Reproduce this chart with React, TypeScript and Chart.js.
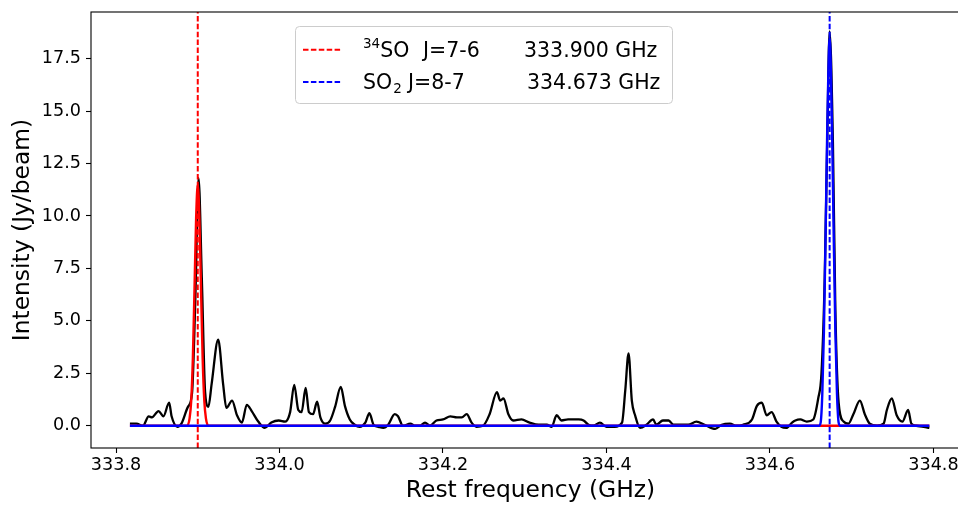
import React, { useEffect, useRef } from 'react';
import { Chart, registerables } from 'chart.js';

Chart.register(...registerables);

// ---- data ----
const freqGHz = [
  333.817, 333.825, 333.833, 333.840, 333.844, 333.852, 333.858, 333.865, 333.868, 333.875,
  333.880, 333.888, 333.893, 333.897, 333.901, 333.905, 333.909, 333.913, 333.917, 333.925,
  333.931, 333.935, 333.942, 333.948, 333.954, 333.960, 333.966, 333.974, 333.982, 333.990,
  333.999, 334.007, 334.013, 334.018, 334.023, 334.027, 334.032, 334.036, 334.041, 334.046,
  334.050, 334.056, 334.062, 334.068, 334.075, 334.080, 334.086, 334.092, 334.098, 334.105,
  334.110, 334.115, 334.121, 334.127, 334.133, 334.141, 334.145, 334.151, 334.160, 334.166,
  334.172, 334.178, 334.184, 334.192, 334.200, 334.209, 334.217, 334.223, 334.229, 334.235,
  334.241, 334.249, 334.257, 334.266, 334.270, 334.274, 334.280, 334.286, 334.296, 334.306,
  334.317, 334.327, 334.333, 334.339, 334.345, 334.353, 334.359, 334.366, 334.372, 334.378,
  334.384, 334.392, 334.400, 334.410, 334.419, 334.423, 334.427, 334.431, 334.435, 334.441,
  334.449, 334.457, 334.461, 334.469, 334.476, 334.482, 334.492, 334.500, 334.510, 334.520,
  334.533, 334.541, 334.551, 334.559, 334.567, 334.578, 334.584, 334.590, 334.596, 334.602,
  334.608, 334.614, 334.620, 334.627, 334.631, 334.637, 334.645, 334.653, 334.659, 334.663,
  334.667, 334.670, 334.673, 334.677, 334.680, 334.684, 334.690, 334.696, 334.702, 334.710,
  334.716, 334.722, 334.731, 334.739, 334.743, 334.749, 334.755, 334.762, 334.769, 334.773,
  334.779, 334.788, 334.795,
];
const intensity = [
  0.1, 0.1, 0.0, 0.45, 0.4, 0.7, 0.45, 1.1, 0.45, -0.05,
  0.1, 0.9, 1.55, 6.0, 11.8, 7.0, 1.6, 0.9, 2.0, 4.1,
  2.0, 0.85, 1.2, 0.5, 0.15, 1.0, 0.7, 0.2, -0.1, 0.15,
  0.25, 0.2, 0.65, 1.95, 0.75, 0.65, 1.8, 0.65, 0.55, 1.15,
  0.4, 0.1, 0.25, 0.9, 1.85, 0.95, 0.3, 0.05, -0.05, 0.15,
  0.6, 0.05, -0.05, -0.1, 0.05, 0.55, 0.45, 0.0, 0.1, 0.0,
  0.0, 0.15, 0.0, 0.25, 0.3, 0.45, 0.4, 0.4, 0.55, 0.15,
  -0.05, 0.0, 0.55, 1.6, 1.2, 1.3, 0.55, 0.25, 0.3, 0.15,
  0.05, 0.05, -0.05, 0.5, 0.25, 0.3, 0.3, 0.3, 0.25, 0.05,
  0.0, 0.15, -0.05, -0.05, 0.15, 1.7, 3.45, 1.2, 0.5, -0.1,
  0.05, 0.3, 0.05, 0.25, 0.25, 0.05, 0.05, 0.05, 0.2, 0.05,
  -0.15, 0.05, 0.1, 0.0, 0.05, 0.3, 0.95, 1.1, 0.5, 0.65,
  0.2, -0.05, -0.1, 0.15, 0.25, 0.3, 0.2, 0.3, 1.3, 2.5,
  7.1, 13.5, 18.8, 13.5, 5.5, 1.1, 0.2, 0.1, 0.55, 1.2,
  0.55, 0.1, 0.0, 0.1, 0.75, 1.3, 0.5, 0.2, 0.75, 0.1,
  0.0, -0.05, -0.1,
];

const redFitFreq = [333.817, 333.887, 333.890, 333.892, 333.894, 333.896, 333.898, 333.900, 333.902, 333.904, 333.906, 333.908, 333.910, 333.913, 334.795];
const redFitVal = [0, 0, 0.35, 1.2, 3.2, 6.5, 9.9, 11.5, 9.9, 6.5, 3.2, 1.2, 0.35, 0, 0];

const blueFitFreq = [333.817, 334.660, 334.662, 334.664, 334.666, 334.668, 334.670, 334.6715, 334.673, 334.6745, 334.676, 334.678, 334.680, 334.682, 334.684, 334.686, 334.795];
const blueFitVal = [0, 0, 0.15, 1.5, 4.5, 9.0, 14.0, 17.0, 18.5, 17.0, 14.0, 9.0, 4.5, 1.5, 0.15, 0, 0];

const lineFreqs = [333.9, 334.673];
const xTicks = [333.8, 334.0, 334.2, 334.4, 334.6, 334.8];
const yTicks = [0, 2.5, 5, 7.5, 10, 12.5, 15, 17.5];
const xRange = [333.7694, 334.8447];
const yRange = [-1.06, 19.72];

const legendTexts = [
  { color: '#ff0000', sup: '34', main: 'SO', sub: '', trans: 'J=7-6', freq: '333.900 GHz' },
  { color: '#0000ff', sup: '', main: 'SO', sub: '2', trans: 'J=8-7', freq: '334.673 GHz' },
];

const FONT = '"DejaVu Sans", sans-serif';

const pts = (xs: number[], ys: number[]) => xs.map((x, i) => ({ x, y: ys[i] }));

const framePlugin = {
  id: 'frame',
  afterDatasetsDraw(chart: any) {
    const { ctx, chartArea } = chart;
    ctx.save();
    ctx.strokeStyle = '#000';
    ctx.lineWidth = 1.1;
    ctx.strokeRect(chartArea.left, chartArea.top, chartArea.right - chartArea.left, chartArea.bottom - chartArea.top);
    ctx.restore();
  },
};

const legendPlugin = {
  id: 'specLegend',
  afterDraw(chart: any) {
    const { ctx, chartArea } = chart;
    const bx = chartArea.left + 204;
    const by = chartArea.top + 14;
    const bw = 377;
    const bh = 77;
    ctx.save();
    ctx.beginPath();
    ctx.roundRect(bx + 0.5, by + 0.5, bw, bh, 4);
    ctx.fillStyle = 'rgba(255,255,255,0.8)';
    ctx.fill();
    ctx.strokeStyle = '#cccccc';
    ctx.lineWidth = 1;
    ctx.stroke();

    const rowY = [by + 23.7, by + 56];
    const transX = [bx + 128, bx + 113];
    const freqX = [bx + 229, bx + 232];
    legendTexts.forEach((e, i) => {
      const cy = rowY[i];
      ctx.beginPath();
      ctx.setLineDash([5.5, 2.4]);
      ctx.strokeStyle = e.color;
      ctx.lineWidth = 2;
      ctx.moveTo(bx + 8, cy);
      ctx.lineTo(bx + 47, cy);
      ctx.stroke();
      ctx.setLineDash([]);

      const base = cy + 7.4;
      let x = bx + 68;
      ctx.fillStyle = '#000';
      ctx.textBaseline = 'alphabetic';
      ctx.textAlign = 'left';
      if (e.sup) {
        ctx.font = `13.5px ${FONT}`;
        ctx.fillText(e.sup, x, base - 9.5);
        x += ctx.measureText(e.sup).width;
      }
      ctx.font = `20.5px ${FONT}`;
      ctx.fillText(e.main, x, base);
      x += ctx.measureText(e.main).width;
      if (e.sub) {
        ctx.font = `13.5px ${FONT}`;
        ctx.fillText(e.sub, x + 1, base + 4);
      }
      ctx.font = `20.5px ${FONT}`;
      ctx.fillText(e.trans, transX[i], base);
      ctx.fillText(e.freq, freqX[i], base);
    });
    ctx.restore();
  },
};

export default function App() {
  const ref = useRef<HTMLCanvasElement | null>(null);

  useEffect(() => {
    if (!ref.current) return;
    const lineDs = (x: number, color: string) => ({
      data: [{ x, y: yRange[0] }, { x, y: yRange[1] }],
      borderColor: color,
      borderWidth: 2,
      borderDash: [5.5, 2.4],
      tension: 0,
      cubicInterpolationMode: 'default',
      order: 0,
    });
    const chart = new Chart(ref.current, {
      type: 'scatter',
      data: {
        datasets: [
          {
            data: pts(freqGHz, intensity),
            borderColor: '#000000',
            borderWidth: 2.3,
            cubicInterpolationMode: 'monotone',
            order: 3,
          },
          {
            data: pts(redFitFreq, redFitVal),
            borderColor: '#ff0000',
            borderWidth: 2.4,
            cubicInterpolationMode: 'monotone',
            order: 2,
          },
          {
            data: pts(blueFitFreq, blueFitVal),
            borderColor: '#0000ff',
            borderWidth: 2.4,
            cubicInterpolationMode: 'monotone',
            order: 1,
          },
          lineDs(lineFreqs[0], '#ff0000'),
          lineDs(lineFreqs[1], '#0000ff'),
        ] as any,
      },
      options: {
        animation: false,
        responsive: false,
        devicePixelRatio: 1,
        showLine: true,
        elements: { point: { radius: 0, hoverRadius: 0 }, line: { fill: false } },
        layout: { padding: { top: 12, right: 2, left: 0, bottom: 0 } },
        plugins: { legend: { display: false }, tooltip: { enabled: false } },
        events: [],
        scales: {
          x: {
            type: 'linear',
            min: xRange[0],
            max: xRange[1],
            afterFit: (s: any) => { s.height = 57; s.paddingLeft = 0; s.paddingRight = 0; },
            afterBuildTicks: (s: any) => { s.ticks = xTicks.map((v) => ({ value: v })); },
            ticks: {
              autoSkip: false,
              maxRotation: 0,
              padding: 2,
              color: '#000',
              font: { family: FONT, size: 17.6 },
              callback: (v: any) => Number(v).toFixed(1),
            },
            grid: { display: true, drawOnChartArea: false, drawTicks: true, tickLength: 5, tickColor: '#000', tickWidth: 1.1 },
            border: { display: false },
            title: { display: true, text: 'Rest frequency (GHz)', color: '#000', font: { family: FONT, size: 23.4 }, padding: { top: 0, bottom: 0 } },
          },
          y: {
            type: 'linear',
            min: yRange[0],
            max: yRange[1],
            afterFit: (s: any) => { s.width = 91; s.paddingTop = 0; s.paddingBottom = 0; },
            afterBuildTicks: (s: any) => { s.ticks = yTicks.map((v) => ({ value: v })); },
            ticks: {
              autoSkip: false,
              padding: 5,
              color: '#000',
              font: { family: FONT, size: 17.6 },
              callback: (v: any) => Number(v).toFixed(1),
            },
            grid: { display: true, drawOnChartArea: false, drawTicks: true, tickLength: 5, tickColor: '#000', tickWidth: 1.1 },
            border: { display: false },
            title: { display: true, text: 'Intensity (Jy/beam)', color: '#000', font: { family: FONT, size: 23.4 }, padding: { top: 9, bottom: 0 } },
          },
        },
      } as any,
      plugins: [framePlugin, legendPlugin],
    });
    return () => chart.destroy();
  }, []);

  return (
    <div style={{ position: 'fixed', left: 0, top: 0, width: 958, height: 505, overflow: 'hidden', background: '#fff' }}>
      <canvas ref={ref} width={972} height={505} style={{ display: 'block', width: 972, height: 505 }} />
    </div>
  );
}
